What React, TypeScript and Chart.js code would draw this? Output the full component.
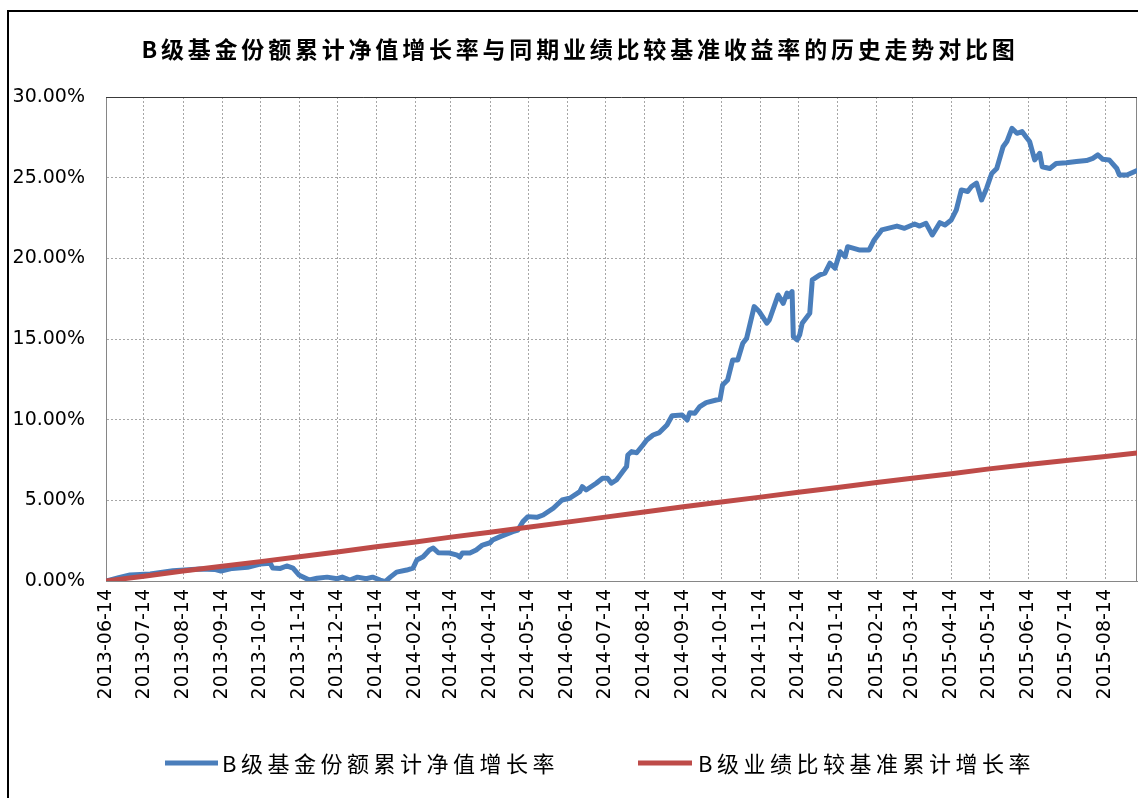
import { useEffect, useRef } from "react";
import { Chart, registerables } from "chart.js";

Chart.register(...registerables);

const titleText = "B级基金份额累计净值增长率与同期业绩比较基准收益率的历史走势对比图";
const seriesNames = ["B级基金份额累计净值增长率", "B级业绩比较基准累计增长率"];
const seriesColors = ["#4A7EBB", "#BE4B48"];

const startDate = "2013-06-14";
const endDate = "2015-09-08";

const tickDates = [
  "2013-06-14", "2013-07-14", "2013-08-14", "2013-09-14", "2013-10-14", "2013-11-14",
  "2013-12-14", "2014-01-14", "2014-02-14", "2014-03-14", "2014-04-14", "2014-05-14",
  "2014-06-14", "2014-07-14", "2014-08-14", "2014-09-14", "2014-10-14", "2014-11-14",
  "2014-12-14", "2015-01-14", "2015-02-14", "2015-03-14", "2015-04-14", "2015-05-14",
  "2015-06-14", "2015-07-14", "2015-08-14",
];

const yTicks = [0, 5, 10, 15, 20, 25, 30];

const blueDates = [
  "2013-06-14", "2013-06-24", "2013-07-03", "2013-07-19", "2013-08-06", "2013-08-27", "2013-09-08", "2013-09-13", "2013-09-22", "2013-10-04",
  "2013-10-14", "2013-10-22", "2013-10-24", "2013-10-30", "2013-11-04", "2013-11-09", "2013-11-14", "2013-11-22", "2013-11-28", "2013-12-06",
  "2013-12-14", "2013-12-18", "2013-12-24", "2013-12-30", "2014-01-06", "2014-01-11", "2014-01-17", "2014-01-21", "2014-01-25", "2014-01-30",
  "2014-02-07", "2014-02-12", "2014-02-15", "2014-02-20", "2014-02-25", "2014-02-28", "2014-03-04", "2014-03-13", "2014-03-19", "2014-03-21",
  "2014-03-23", "2014-03-29", "2014-04-03", "2014-04-08", "2014-04-14", "2014-04-16", "2014-04-22", "2014-05-02", "2014-05-06", "2014-05-10",
  "2014-05-14", "2014-05-21", "2014-05-26", "2014-06-03", "2014-06-10", "2014-06-16", "2014-06-24", "2014-06-26", "2014-06-29", "2014-07-07",
  "2014-07-12", "2014-07-16", "2014-07-19", "2014-07-23", "2014-07-28", "2014-07-31", "2014-08-01", "2014-08-04", "2014-08-08", "2014-08-13",
  "2014-08-16", "2014-08-21", "2014-08-26", "2014-09-01", "2014-09-05", "2014-09-13", "2014-09-17", "2014-09-19", "2014-09-23", "2014-09-27",
  "2014-10-02", "2014-10-10", "2014-10-13", "2014-10-15", "2014-10-19", "2014-10-23", "2014-10-27", "2014-10-31", "2014-11-03", "2014-11-09",
  "2014-11-13", "2014-11-19", "2014-11-21", "2014-11-28", "2014-12-02", "2014-12-05", "2014-12-06", "2014-12-09", "2014-12-10", "2014-12-13",
  "2014-12-15", "2014-12-17", "2014-12-23", "2014-12-25", "2014-12-31", "2015-01-04", "2015-01-08", "2015-01-12", "2015-01-16", "2015-01-20",
  "2015-01-22", "2015-01-31", "2015-02-08", "2015-02-12", "2015-02-18", "2015-03-02", "2015-03-08", "2015-03-16", "2015-03-20", "2015-03-25",
  "2015-03-30", "2015-04-05", "2015-04-09", "2015-04-14", "2015-04-18", "2015-04-22", "2015-04-27", "2015-04-30", "2015-05-04", "2015-05-08",
  "2015-05-12", "2015-05-16", "2015-05-20", "2015-05-25", "2015-05-28", "2015-06-01", "2015-06-05", "2015-06-09", "2015-06-13", "2015-06-15",
  "2015-06-19", "2015-06-23", "2015-06-25", "2015-07-01", "2015-07-06", "2015-07-14", "2015-07-22", "2015-07-30", "2015-08-04", "2015-08-08",
  "2015-08-12", "2015-08-17", "2015-08-23", "2015-08-25", "2015-08-31", "2015-09-08",
];

const blueValues = [
  0, 0.2, 0.37, 0.43, 0.64, 0.74, 0.72, 0.62, 0.78, 0.85,
  1.05, 1.1, 0.8, 0.78, 0.93, 0.8, 0.35, 0.06, 0.17, 0.24,
  0.14, 0.24, 0.06, 0.24, 0.14, 0.24, 0.06, -0.04, 0.24, 0.55,
  0.68, 0.8, 1.3, 1.5, 1.92, 2.04, 1.75, 1.73, 1.6, 1.48,
  1.73, 1.73, 1.92, 2.23, 2.37, 2.54, 2.75, 3.06, 3.16, 3.68,
  3.99, 3.95, 4.09, 4.51, 5.02, 5.13, 5.54, 5.85, 5.64, 6.06,
  6.37, 6.37, 6.06, 6.26, 6.78, 7.09, 7.81, 8.02, 7.95, 8.43,
  8.74, 9.05, 9.2, 9.67, 10.24, 10.29, 9.98, 10.43, 10.4, 10.81,
  11.06, 11.22, 11.26, 12.15, 12.46, 13.7, 13.7, 14.74, 15.04, 17.01,
  16.7, 15.98, 16.18, 17.73, 17.21, 17.84, 17.63, 17.94, 15.15, 14.94,
  15.25, 15.98, 16.6, 18.66, 18.97, 19.08, 19.7, 19.39, 20.41, 20.1,
  20.72, 20.52, 20.52, 21.14, 21.76, 22.0, 21.86, 22.13, 22.0, 22.17,
  21.45, 22.21, 22.07, 22.38, 23.0, 24.24, 24.14, 24.45, 24.66, 23.62,
  24.35, 25.26, 25.57, 26.92, 27.24, 28.06, 27.75, 27.86, 27.44, 27.24,
  26.1, 26.51, 25.68, 25.57, 25.88, 25.93, 26.0, 26.06, 26.2, 26.41,
  26.14, 26.1, 25.57, 25.17, 25.17, 25.44,
];

const redDates = [...tickDates, endDate];
const redValues = [
  0, 0.3, 0.62, 0.92, 1.2, 1.5, 1.8, 2.12, 2.42, 2.72, 3.02, 3.33, 3.65, 3.96,
  4.28, 4.6, 4.9, 5.2, 5.5, 5.8, 6.1, 6.37, 6.65, 6.95, 7.22, 7.47, 7.72, 7.93,
];

const dayOf = (s: string) =>
  Math.round((Date.parse(s + "T00:00:00Z") - Date.parse(startDate + "T00:00:00Z")) / 86400000);

const tickDays = tickDates.map(dayOf);
const tickLabelByDay: Record<number, string> = {};
tickDates.forEach((d, i) => (tickLabelByDay[tickDays[i]] = d));

const blueData = blueDates.map((d, i) => ({ x: dayOf(d), y: blueValues[i] }));
const redData = redDates.map((d, i) => ({ x: dayOf(d), y: redValues[i] }));

const CJK = '"Noto Sans CJK SC", "Noto Sans CJK JP", sans-serif';
const LATIN = '"DejaVu Sans", Verdana, sans-serif';

const decorPlugin = {
  id: "decor",
  beforeDatasetsDraw(chart: any) {
    const { ctx, chartArea } = chart;
    const { left, right, top, bottom } = chartArea;
    ctx.save();
    ctx.setLineDash([]);
    ctx.lineWidth = 1;
    ctx.strokeStyle = "#868686";
    ctx.beginPath();
    ctx.moveTo(right - 0.5, top);
    ctx.lineTo(right - 0.5, bottom);
    ctx.stroke();
    ctx.strokeStyle = "#3a3a3a";
    ctx.beginPath();
    ctx.moveTo(left, top + 0.5);
    ctx.lineTo(right, top + 0.5);
    ctx.stroke();
    ctx.restore();
  },
  afterDraw(chart: any) {
    const ctx = chart.ctx as CanvasRenderingContext2D & { letterSpacing?: string };
    ctx.save();
    // title
    ctx.fillStyle = "#000";
    ctx.textBaseline = "middle";
    ctx.textAlign = "center";
    ctx.font = `bold 23px ${CJK}`;
    (ctx as any).letterSpacing = "3.8px";
    ctx.fillText(titleText, 580, 49);
    // legend
    ctx.textAlign = "left";
    ctx.font = `22px ${CJK}`;
    (ctx as any).letterSpacing = "4.5px";
    const legendY = 763;
    const items = [
      { x0: 165, x1: 218, tx: 222 },
      { x0: 638, x1: 692, tx: 698 },
    ];
    const order = [0, 1];
    order.forEach((idx, k) => {
      const ds = chart.data.datasets.find((d: any) => d.label === seriesNames[idx]);
      const pos = items[k];
      ctx.strokeStyle = ds.borderColor;
      ctx.lineWidth = 5;
      ctx.lineCap = "butt";
      ctx.beginPath();
      ctx.moveTo(pos.x0, legendY);
      ctx.lineTo(pos.x1, legendY);
      ctx.stroke();
      ctx.fillStyle = "#000";
      ctx.fillText(ds.label, pos.tx, legendY + 1);
    });
    ctx.restore();
  },
};

export default function App() {
  const canvasRef = useRef<HTMLCanvasElement | null>(null);

  useEffect(() => {
    if (!canvasRef.current) return;
    const chart = new Chart(canvasRef.current, {
      type: "line",
      data: {
        datasets: [
          {
            label: seriesNames[0],
            data: blueData,
            borderColor: seriesColors[0],
            backgroundColor: seriesColors[0],
            borderWidth: 5,
            pointRadius: 0,
            tension: 0,
            borderJoinStyle: "round",
            borderCapStyle: "round",
            order: 1,
          },
          {
            label: seriesNames[1],
            data: redData,
            borderColor: seriesColors[1],
            backgroundColor: seriesColors[1],
            borderWidth: 5,
            pointRadius: 0,
            tension: 0,
            borderJoinStyle: "round",
            borderCapStyle: "round",
            order: 0,
          },
        ],
      },
      options: {
        responsive: false,
        animation: false,
        layout: { padding: { top: 97, left: 0, right: 1, bottom: 0 } },
        plugins: {
          legend: { display: false },
          title: { display: false },
          tooltip: { enabled: false },
        },
        scales: {
          x: {
            type: "linear",
            min: 0,
            max: dayOf(endDate),
            afterBuildTicks: (scale: any) => {
              scale.ticks = tickDays.map((v) => ({ value: v }));
            },
            afterFit: (scale: any) => {
              scale.height = 217;
            },
            ticks: {
              autoSkip: false,
              minRotation: 90,
              maxRotation: 90,
              padding: 8,
              color: "#000",
              font: { family: LATIN, size: 19 },
              callback: (v: any) => tickLabelByDay[v] ?? "",
            },
            grid: {
              color: "#A6A6A6",
              lineWidth: 1,
              drawTicks: false,
            },
            border: { display: true, color: "#868686", width: 1, dash: [2, 2] },
          },
          y: {
            type: "linear",
            min: 0,
            max: 30,
            afterBuildTicks: (scale: any) => {
              scale.ticks = yTicks.map((v) => ({ value: v }));
            },
            afterFit: (scale: any) => {
              scale.width = 106;
            },
            ticks: {
              padding: 21,
              color: "#000",
              font: { family: LATIN, size: 19 },
              callback: (v: any) => Number(v).toFixed(2) + "%",
            },
            grid: {
              color: "#A6A6A6",
              lineWidth: 1,
              drawTicks: false,
            },
            border: { display: true, color: "#868686", width: 1, dash: [2, 2] },
          },
        },
      },
      plugins: [decorPlugin],
    } as any);
    return () => chart.destroy();
  }, []);

  return (
    <div
      style={{
        position: "fixed",
        left: 0,
        top: 0,
        width: 1138,
        height: 798,
        overflow: "hidden",
        background: "#fff",
      }}
    >
      <canvas ref={canvasRef} width={1138} height={798} style={{ display: "block" }} />
      <div
        style={{
          position: "absolute",
          left: 7,
          top: 10,
          width: 1200,
          height: 900,
          borderLeft: "2px solid #000",
          borderTop: "2px solid #000",
          pointerEvents: "none",
        }}
      />
    </div>
  );
}
